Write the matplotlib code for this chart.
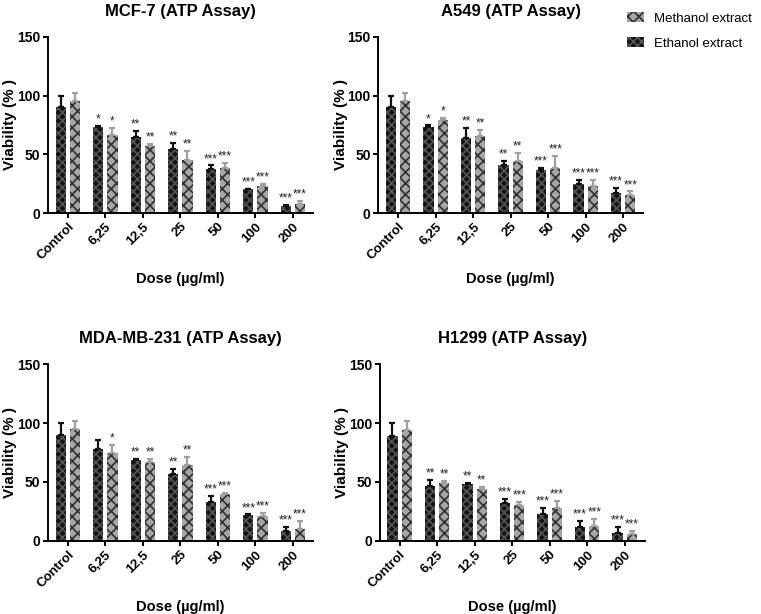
import numpy as np
import matplotlib
matplotlib.use("Agg")
import matplotlib.pyplot as plt
from matplotlib.patches import Patch

plt.rcParams["font.family"] = ["Liberation Sans", "DejaVu Sans"]
plt.rcParams["hatch.linewidth"] = 1.2

doses = ["Control", "6,25", "12,5", "25", "50", "100", "200"]

# MCF-7
mcf_eth = [90, 73.3, 64.5, 54.3, 37.8, 20.2, 6.0]
mcf_eth_err = [10, 0.8, 5.7, 5.7, 2.8, 0.5, 0.8]
mcf_met = [95, 66.8, 57.1, 45.5, 38.6, 23.3, 7.4]
mcf_met_err = [7, 5.6, 2, 7.3, 4.3, 1.4, 3]
mcf_eth_sig = ["", "*", "**", "**", "***", "***", "***"]
mcf_met_sig = ["", "*", "**", "**", "***", "***", "***"]

# A549
a549_eth = [90, 73.6, 63.9, 41.2, 36.4, 25.0, 17.3]
a549_eth_err = [10, 1.1, 8.3, 3.1, 2.2, 3.4, 4.0]
a549_met = [95, 79.5, 65.6, 44.0, 38.6, 23.3, 15.6]
a549_met_err = [7, 1.5, 5.4, 7.1, 10, 5.1, 2.9]
a549_eth_sig = ["", "*", "**", "**", "***", "***", "***"]
a549_met_sig = ["", "*", "**", "**", "***", "***", "***"]

# MDA-MB-231
mda_eth = [89.7, 77.8, 68.8, 56.6, 33.1, 22.1, 8.2]
mda_eth_err = [10.2, 7.4, 1.1, 4.8, 4.8, 0.5, 3.4]
mda_met = [95.1, 74.4, 67.1, 64.3, 39.9, 21.5, 10.5]
mda_met_err = [6.8, 7.1, 2.2, 6.7, 0.9, 2.6, 6.5]
mda_eth_sig = ["", "", "**", "**", "***", "***", "***"]
mda_met_sig = ["", "*", "**", "**", "***", "***", "***"]

# H1299
h_eth = [89.4, 46.7, 48.4, 32.3, 22.6, 12.2, 7.1]
h_eth_err = [10.5, 4.8, 0.8, 3.4, 5.1, 4.5, 4.5]
h_met = [94.5, 49.0, 43.9, 30.6, 28.3, 12.7, 5.7]
h_met_err = [7.4, 1.7, 2.2, 2.5, 5.9, 5.7, 2.8]
h_eth_sig = ["", "**", "**", "***", "***", "***", "***"]
h_met_sig = ["", "**", "**", "***", "***", "***", "***"]

panels = [
    ("MCF-7 (ATP Assay)", mcf_eth, mcf_eth_err, mcf_met, mcf_met_err, mcf_eth_sig, mcf_met_sig),
    ("A549 (ATP Assay)", a549_eth, a549_eth_err, a549_met, a549_met_err, a549_eth_sig, a549_met_sig),
    ("MDA-MB-231 (ATP Assay)", mda_eth, mda_eth_err, mda_met, mda_met_err, mda_eth_sig, mda_met_sig),
    ("H1299 (ATP Assay)", h_eth, h_eth_err, h_met, h_met_err, h_eth_sig, h_met_sig),
]

# axes rectangles (fig fraction)
rects = [[0.063, 0.653, 0.348, 0.287],
         [0.497, 0.653, 0.348, 0.287],
         [0.063, 0.119, 0.348, 0.288],
         [0.499, 0.119, 0.348, 0.288]]

ETH_FACE, ETH_HATCH = "#141414", "#555555"
MET_FACE, MET_HATCH = "#a6a6a6", "#303030"

fig = plt.figure(figsize=(7.61, 6.14), dpi=100)
x = np.arange(len(doses))
w = 0.27
off = 0.19
for rect, (title, eth, eth_err, met, met_err, esig, msig) in zip(rects, panels):
    ax = fig.add_axes(rect)
    ax.bar(x - off, eth, w, color=ETH_FACE, edgecolor=ETH_HATCH, hatch="xxxx", linewidth=0)
    ax.bar(x + off, met, w, color=MET_FACE, edgecolor=MET_HATCH, hatch="xxx", linewidth=0)
    ax.errorbar(x - off, eth, yerr=[np.zeros(len(eth)), eth_err], fmt="none",
                ecolor="#111111", elinewidth=1.6, capsize=2.2, capthick=1.6)
    ax.errorbar(x + off, met, yerr=[np.zeros(len(met)), met_err], fmt="none",
                ecolor="#a0a0a0", elinewidth=1.6, capsize=2.2, capthick=1.6)
    for i in range(len(doses)):
        if esig[i]:
            ax.text(x[i] - off, eth[i] + eth_err[i] + 0.3, esig[i], ha="center",
                    va="bottom", fontsize=8.5, color="#222222")
        if msig[i]:
            ax.text(x[i] + off, met[i] + met_err[i] + 0.3, msig[i], ha="center",
                    va="bottom", fontsize=8.5, color="#222222")
    ax.set_xlim(-0.53, 6.53)
    ax.set_ylim(0, 150)
    ax.set_yticks([0, 50, 100, 150])
    ax.set_xticks(x)
    ax.set_xticklabels(doses, rotation=45, ha="right", rotation_mode="anchor",
                       fontsize=9.5, fontweight="bold")
    for lab in ax.get_yticklabels():
        lab.set_fontweight("bold")
        lab.set_fontsize(10)
    ax.spines["top"].set_visible(False)
    ax.spines["right"].set_visible(False)
    ax.spines["left"].set_linewidth(1.4)
    ax.spines["bottom"].set_linewidth(1.4)
    ax.tick_params(width=1.4, length=3.5, pad=2)
    ax.set_title(title, fontsize=12, fontweight="bold", pad=15)
    ax.set_ylabel("Viability (% )", fontsize=11, fontweight="bold")
    ax.yaxis.set_label_coords(-0.115, 0.5)
    ax.set_xlabel("Dose (\u00b5g/ml)", fontsize=10.5, fontweight="bold", labelpad=7)

handles = [Patch(facecolor=MET_FACE, edgecolor=MET_HATCH, hatch="xxx", linewidth=0),
           Patch(facecolor=ETH_FACE, edgecolor=ETH_HATCH, hatch="xxxx", linewidth=0)]
fig.legend(handles, ["Methanol extract", "Ethanol extract"], loc="upper left",
           bbox_to_anchor=(0.808, 1.0), frameon=False, fontsize=9.5,
           handlelength=1.3, handleheight=0.8, labelspacing=0.95, handletextpad=0.8)

fig.savefig("out.png", dpi=100)
